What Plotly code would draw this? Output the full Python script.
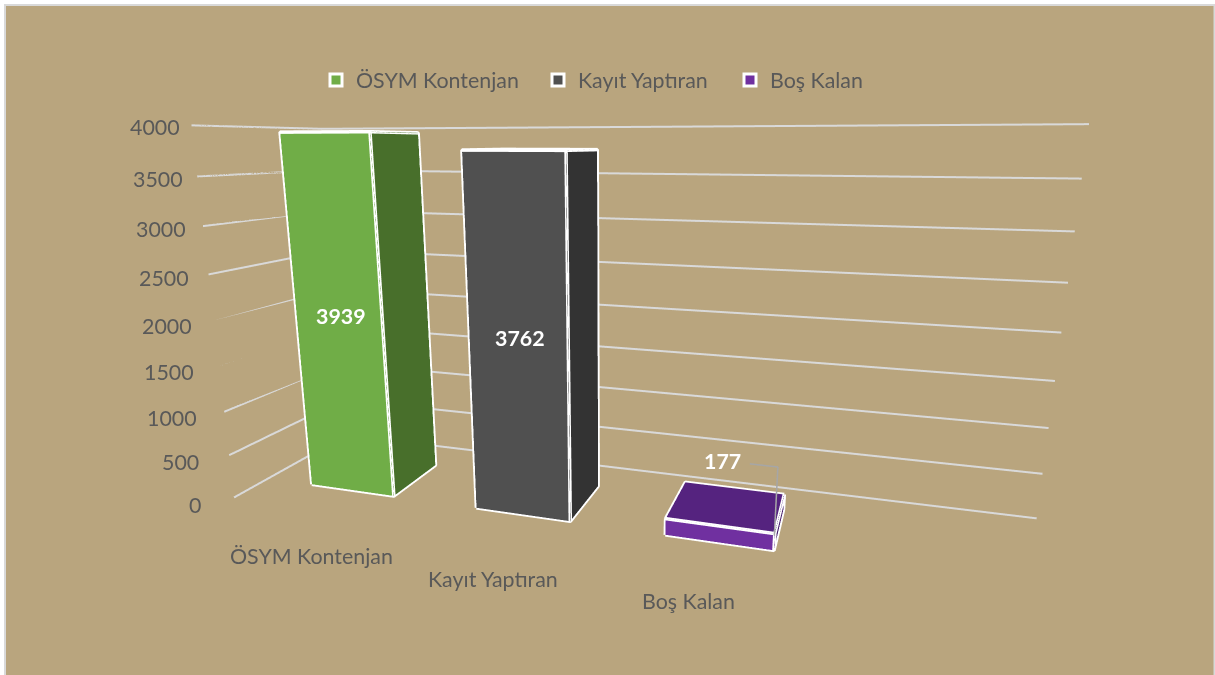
import plotly.graph_objects as go

categories = ["ÖSYM Kontenjan", "Kayıt Yaptıran", "Boş Kalan"]
values = [3939, 3762, 177]
front_colors = ["#70AD47", "#505050", "#7030A0"]
side_colors = ["#486F2B", "#333333", "#471D6C"]
top_colors = ["#548235", "#3B3B3B", "#55237F"]
z_ticks = [0, 500, 1000, 1500, 2000, 2500, 3000, 3500, 4000]
BG = "#B9A57E"
W, H = 1215, 675

X_MIN, X_MAX = -0.543, 3.48
Y_MIN, Y_MAX = 0.0, 1.0
BAR_W = 0.515
BAR_Y0, BAR_Y1 = 0.27, 0.72
LABEL_FONT = "Lato"
FS = 21.4
CAT_XSHIFT = [-10, -7, -20]
CAT_YSHIFT = [-45, -41, -31]

fig = go.Figure()

for t in z_ticks:
    fig.add_trace(go.Scatter3d(x=[X_MIN, X_MIN, X_MAX], y=[Y_MIN, Y_MAX, Y_MAX], z=[t, t, t], mode="lines",
                               line=dict(color="#D9D9D9", width=4), showlegend=False, hoverinfo="skip"))


def box(i, v):
    x0, x1 = i - BAR_W / 2, i + BAR_W / 2
    return (
        [x0, x1, x1, x0, x0, x1, x1, x0],
        [BAR_Y0, BAR_Y0, BAR_Y1, BAR_Y1, BAR_Y0, BAR_Y0, BAR_Y1, BAR_Y1],
        [0, 0, 0, 0, v, v, v, v],
    )


legend_ids = ["legend", "legend2", "legend3"]
for i, (name, v) in enumerate(zip(categories, values)):
    xs, ys, zs = box(i, v)
    faces = [
        ((0, 1, 5, 4), front_colors[i]),
        ((1, 2, 6, 5), side_colors[i]),
        ((4, 5, 6, 7), top_colors[i]),
    ]
    I, J, K, C = [], [], [], []
    for (a, b, c, d), col in faces:
        I += [a, a]
        J += [b, c]
        K += [c, d]
        C += [col, col]
    fig.add_trace(go.Mesh3d(x=xs, y=ys, z=zs, i=I, j=J, k=K, facecolor=C, flatshading=True,
                            lighting=dict(ambient=1, diffuse=0, specular=0, fresnel=0),
                            showlegend=False, hoverinfo="skip"))
    edges = [0, 1, 2, 6, 5, 1, 5, 4, 0, None, 4, 7, 6]
    fig.add_trace(go.Scatter3d(
        x=[xs[e] if e is not None else None for e in edges],
        y=[ys[e] if e is not None else None for e in edges],
        z=[zs[e] if e is not None else None for e in edges],
        mode="lines", line=dict(color="white", width=7), showlegend=False, hoverinfo="skip"))
    fig.add_trace(go.Scatter3d(x=[None], y=[None], z=[None], mode="markers", name=name, legend=legend_ids[i],
                               marker=dict(symbol="square", size=12, color=front_colors[i],
                                           line=dict(color="white", width=3))))

# leader line of the small bar's label
lx = 2 + BAR_W / 2
fig.add_trace(go.Scatter3d(x=[lx, lx, lx - 0.125], y=[BAR_Y0 - 0.02] * 3,
                           z=[values[2], values[2] + 700, values[2] + 700],
                           mode="lines", line=dict(color="#A6A6A6", width=3), showlegend=False, hoverinfo="skip"))

notes = []
for t in z_ticks:
    notes.append(dict(x=X_MIN, y=Y_MIN, z=t, text=str(t), showarrow=False, xanchor="right", yanchor="middle",
                      xshift=-31 + 22 * t / 4000, yshift=-7 + 5 * t / 4000,
                      font=dict(family=LABEL_FONT, size=FS, color="#595959")))
for i, (c, v) in enumerate(zip(categories, values)):
    notes.append(dict(x=i, y=Y_MIN, z=0, text=c, showarrow=False, xanchor="center", yanchor="middle",
                      xshift=CAT_XSHIFT[i], yshift=CAT_YSHIFT[i],
                      font=dict(family=LABEL_FONT, size=FS, color="#595959")))
    big = v > 1000
    notes.append(dict(x=i, y=BAR_Y0, z=v / 2 if big else v + 700, text=f"<b>{v}</b>", showarrow=False,
                      xanchor="center" if big else "right", yanchor="middle",
                      xshift=2 if big else 22, yshift=4 if big else -2,
                      font=dict(family=LABEL_FONT, size=FS, color="white")))

axis_off = dict(visible=False, showspikes=False)


def legend_at(px):
    return dict(orientation="h", x=px / W, xanchor="left", y=1 - 80 / H, yanchor="middle",
                bgcolor="rgba(0,0,0,0)", font=dict(size=FS, family=LABEL_FONT, color="#595959"))


fig.update_layout(
    width=W, height=H, paper_bgcolor="white", margin=dict(l=0, r=0, t=0, b=0),
    font=dict(family=LABEL_FONT, color="#595959", size=FS),
    legend=legend_at(316), legend2=legend_at(538), legend3=legend_at(730),
    scene=dict(
        domain=dict(x=[0, 1], y=[0, 1]),
        bgcolor="rgba(0,0,0,0)",
        xaxis=dict(axis_off, range=[X_MIN, X_MAX]),
        yaxis=dict(axis_off, range=[Y_MIN, Y_MAX]),
        zaxis=dict(axis_off, range=[0, 4000]),
        aspectmode="manual", aspectratio=dict(x=2.1023, y=0.5217, z=1),
        camera=dict(eye=dict(x=0.5642, y=-1.9533, z=0.4563), center=dict(x=-0.0202, y=-0.0837, z=-0.0104),
                    up=dict(x=0, y=0, z=1)),
        annotations=notes,
    ),
    shapes=[dict(type="rect", xref="paper", yref="paper", x0=5 / W, x1=1214.5 / W, y0=-3 / H, y1=1 - 5 / H,
                 line=dict(color="#D9D9D9", width=2), fillcolor=BG, layer="below")],
)

fig.write_html("out.html", config=dict(displayModeBar=False), post_script="document.body.style.margin='0';")
